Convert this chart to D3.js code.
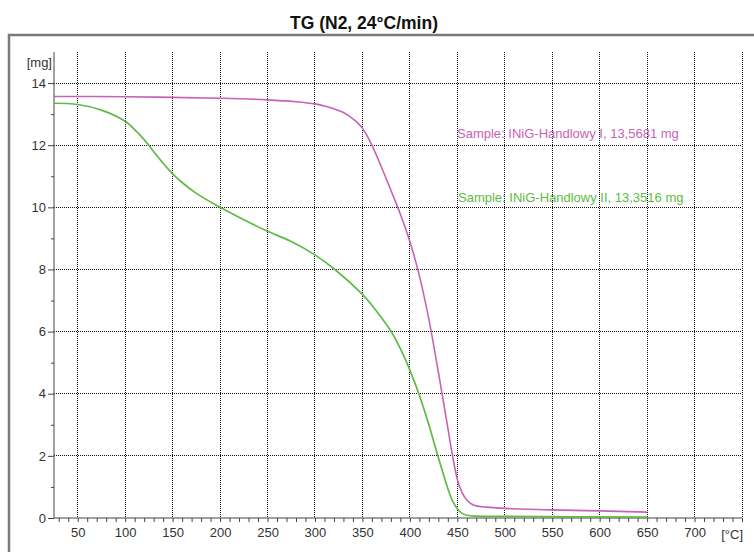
<!DOCTYPE html>
<html>
<head>
<meta charset="utf-8">
<script src="https://cdn.jsdelivr.net/npm/d3@7/dist/d3.min.js"></script>
<style>
  html, body { margin: 0; padding: 0; background: #fff; }
  svg { display: block; font-family: "Liberation Sans", Arial, sans-serif; }
</style>
</head>
<body>
<svg id="chart" width="754" height="552"></svg>
<script>
// ---- data ----
const titleText = "TG (N2, 24°C/min)";
const xTicks = [50, 100, 150, 200, 250, 300, 350, 400, 450, 500, 550, 600, 650, 700];
const yTicks = [0, 2, 4, 6, 8, 10, 12, 14];

const sample1Label = "Sample: INiG-Handlowy I, 13,5681 mg";
const sample1Temp = [25, 100, 150, 200, 250, 280, 300, 310, 320, 330, 340, 345, 350, 355, 360, 370, 380, 390, 400, 410, 420, 430, 440, 445, 450, 455, 460, 465, 470, 480, 500, 550, 600, 650];
const sample1Mass = [13.57, 13.56, 13.54, 13.51, 13.46, 13.40, 13.33, 13.26, 13.17, 13.05, 12.85, 12.72, 12.55, 12.3, 12.0, 11.3, 10.55, 9.78, 8.9, 7.8, 6.4, 4.7, 2.9, 2.0, 1.25, 0.82, 0.58, 0.45, 0.39, 0.35, 0.31, 0.26, 0.23, 0.19];

const sample2Label = "Sample: INiG-Handlowy II, 13,3516 mg";
const sample2Temp = [25, 50, 75, 100, 110, 120, 130, 140, 150, 160, 175, 200, 225, 250, 275, 300, 321, 350, 360, 370, 380, 390, 400, 410, 420, 430, 440, 445, 450, 455, 460, 470, 500, 650];
const sample2Mass = [13.35, 13.31, 13.13, 12.77, 12.5, 12.18, 11.8, 11.42, 11.08, 10.8, 10.45, 10.0, 9.6, 9.23, 8.9, 8.47, 8.0, 7.2, 6.85, 6.45, 6.02, 5.45, 4.76, 3.95, 3.0, 1.95, 0.95, 0.55, 0.3, 0.15, 0.09, 0.06, 0.05, 0.03];

// ---- layout ----
const svg = d3.select("#chart");
const pL = 54, pR = 742, pT = 52, pB = 518;
const x = d3.scaleLinear().domain([25, 750]).range([pL, pR]);
const y = d3.scaleLinear().domain([0, 15]).range([pB, pT]);

// outer frame
svg.append("rect").attr("x", 9).attr("y", 35).attr("width", 800).attr("height", 600)
  .attr("fill", "none").attr("stroke", "#7a7a7a").attr("stroke-width", 2.5);

// title
svg.append("text").attr("x", 364).attr("y", 29).attr("text-anchor", "middle")
  .attr("font-size", 17.5).attr("font-weight", "bold").attr("fill", "#111").text(titleText);

// grid
const gridV = d3.range(50, 751, 50);
svg.append("g").selectAll("line").data(gridV).join("line")
  .attr("x1", d => x(d)).attr("x2", d => x(d))
  .attr("y1", pT).attr("y2", pB)
  .attr("stroke", "#111").attr("stroke-width", 1).attr("stroke-dasharray", "1,1")
  .attr("shape-rendering", "crispEdges");
svg.append("g").selectAll("line").data(yTicks.filter(d => d > 0)).join("line")
  .attr("x1", pL).attr("x2", pR)
  .attr("y1", d => y(d)).attr("y2", d => y(d))
  .attr("stroke", "#111").attr("stroke-width", 1).attr("stroke-dasharray", "1,1")
  .attr("shape-rendering", "crispEdges");

// y axis
const yAxis = svg.append("g").attr("transform", `translate(${pL},0)`)
  .call(d3.axisLeft(y).tickValues(yTicks).tickSize(6).tickPadding(2).tickFormat(d3.format("d")));
yAxis.select(".domain").attr("d", `M0,${pT}V${pB}`);
svg.append("g").attr("transform", `translate(${pL},0)`)
  .call(d3.axisLeft(y).tickValues(d3.range(1, 15, 2)).tickSize(3).tickFormat(""))
  .select(".domain").remove();

// x axis
const xAxis = svg.append("g").attr("transform", `translate(0,${pB})`)
  .call(d3.axisBottom(x).tickValues(xTicks).tickSize(4).tickPadding(6).tickFormat(d3.format("d")));
xAxis.select(".domain").attr("d", `M${pL},0H${pR}`);
svg.append("g").attr("transform", `translate(0,${pB})`)
  .call(d3.axisBottom(x).tickValues(d3.range(30, 751, 10).filter(d => d % 50 !== 0 || d === 750)).tickSize(4).tickFormat(""))
  .select(".domain").remove();

svg.selectAll(".tick text").attr("font-size", 13).attr("fill", "#333")
  .attr("font-family", "'Liberation Sans', Arial, sans-serif");
svg.selectAll(".tick line, .domain").attr("stroke", "#444");

// axis unit labels
svg.append("text").attr("x", 52).attr("y", 67).attr("text-anchor", "end")
  .attr("font-size", 13).attr("fill", "#333").text("[mg]");
svg.append("text").attr("x", 743).attr("y", 539).attr("text-anchor", "end")
  .attr("font-size", 13).attr("fill", "#333").text("[°C]");

// curves
const line = d3.line().x(d => x(d[0])).y(d => y(d[1])).curve(d3.curveCatmullRom.alpha(0.5));
const s1 = sample1Temp.map((t, i) => [t, sample1Mass[i]]);
const s2 = sample2Temp.map((t, i) => [t, sample2Mass[i]]);
svg.append("path").datum(s2).attr("d", line).attr("fill", "none")
  .attr("stroke", "#5fba46").attr("stroke-width", 1.7);
svg.append("path").datum(s1).attr("d", line).attr("fill", "none")
  .attr("stroke", "#c763b5").attr("stroke-width", 1.6);

// sample labels
svg.append("text").attr("x", 457).attr("y", 138).attr("font-size", 13)
  .attr("fill", "#c763b5").text(sample1Label);
svg.append("text").attr("x", 458).attr("y", 202).attr("font-size", 13)
  .attr("fill", "#5fba46").text(sample2Label);
</script>
</body>
</html>
